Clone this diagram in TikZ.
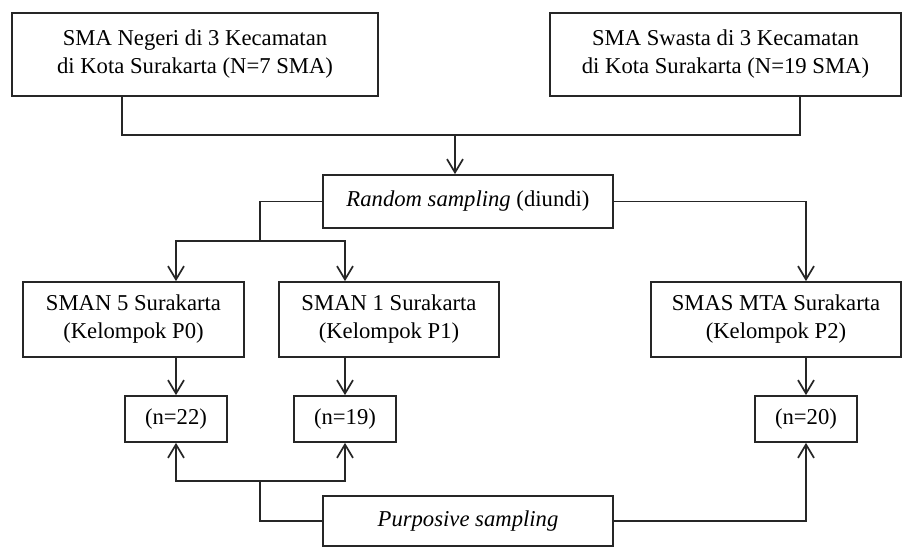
\documentclass[tikz,border=0pt]{standalone}
\usepackage{fontspec}
\setmainfont{Liberation Serif}
\usetikzlibrary{positioning}
\usetikzlibrary{arrows.meta}
\usetikzlibrary{calc}

\begin{document}
\begin{tikzpicture}[x=0.75pt,y=-0.75pt,
% Box styles
    box/.style={rectangle,draw=black!85,line width=1.3pt,inner sep=0pt,
		align=center,font=\fontsize{17}{21}\selectfont},
    nbox/.style={box,minimum width=102*0.75pt,minimum height=46*0.75pt},
% Connector styles
    link/.style={draw=black!85,line width=1.3pt},
    flow/.style={link,-{Straight Barb[length=10pt,width=12pt]}}
    ]
  \useasboundingbox (0,0) rectangle (903,548);

  % top row
  \node (neg) [box,minimum width=366*0.75pt,minimum height=83*0.75pt] at (195,54.5)
    {SMA Negeri di 3 Kecamatan\\di Kota Surakarta (N=7 SMA)};
  \node (swa) [box,minimum width=351*0.75pt,minimum height=83*0.75pt] at (725.5,54.5)
    {SMA Swasta di 3 Kecamatan\\di Kota Surakarta (N=19 SMA)};

  % sampling
  \node (rnd) [box,minimum width=290*0.75pt,minimum height=53*0.75pt] at (468,201.5)
    {\textit{Random sampling} (diundi)};

  % groups
  \node (p0) [box,minimum width=221*0.75pt,minimum height=75*0.75pt] at (133.5,319.5)
    {SMAN 5 Surakarta\\(Kelompok P0)};
  \node (p1) [box,minimum width=220*0.75pt,minimum height=75*0.75pt] at (389,319.5)
    {SMAN 1 Surakarta\\(Kelompok P1)};
  \node (p2) [box,minimum width=250*0.75pt,minimum height=75*0.75pt] at (776,319.5)
    {SMAS MTA Surakarta\\(Kelompok P2)};

  % sample sizes
  \node (n22) [nbox] at (176,419) {(n=22)};
  \node (n19) [nbox] at (345,419) {(n=19)};
  \node (n20) [nbox] at (806,419) {(n=20)};

  \node (pur) [box,minimum width=290*0.75pt,minimum height=50*0.75pt] at (468,521)
    {\textit{Purposive sampling}};

  % joins
  \coordinate (jl) at (122,135);
  \coordinate (jr) at (800,135);
  \coordinate (jm) at (455,135);
  \coordinate (bl) at (260,241);
  \coordinate (bb) at (260,481);

  \draw[link] (neg.south -| jl) -- (jl) -- (jr) -- (swa.south -| jr);
  \draw[flow] (jm) -- (rnd.north -| jm);

  \draw[flow] (rnd.west) -| (bl) -| (p0.north -| n22);
  \draw[flow] (bl) -| (p1.north -| n19);
  \draw[flow] (rnd.east) -| (p2.north -| n20);

  \foreach \g/\n in {p0/n22,p1/n19,p2/n20}
    \draw[flow] (\g.south -| \n) -- (\n.north);

  \draw[flow] (pur.west) -| (bb) -| (n22.south);
  \draw[flow] (bb) -| (n19.south);
  \draw[flow] (pur.east) -| (n20.south);

\end{tikzpicture}
\end{document}
